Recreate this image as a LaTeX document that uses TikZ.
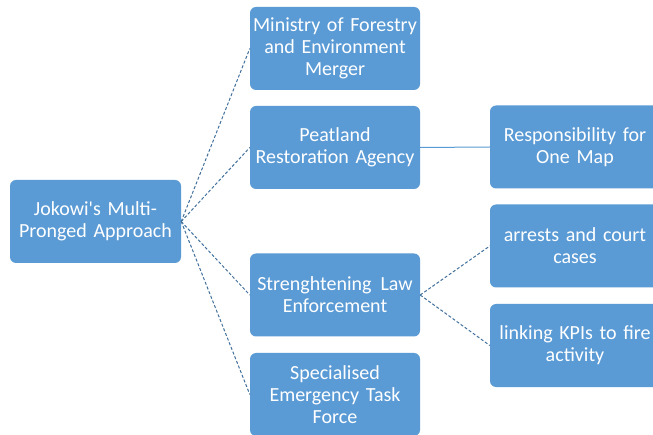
\documentclass[tikz,border=0pt]{standalone}
\usepackage{fontspec}
\setmainfont{Carlito}
\tikzset{
  box/.style={fill=boxblue, rounded corners=6pt, text=white, align=center,
    minimum width=170pt, minimum height=83pt, text width=168pt,
    font=\fontsize{20}{22}\selectfont, inner sep=0pt},
  link/.style={draw=lineblue, line width=1pt, densely dashed},
}
\definecolor{boxblue}{HTML}{5B9BD5}
\definecolor{lineblue}{HTML}{41719C}
\begin{document}
\begin{tikzpicture}[x=1pt,y=-1pt]
\clip (0,0) rectangle (653,435);
\fill[white] (0,0) rectangle (653,435);
% root
\node[box, minimum width=171pt] (root) at (95.5,221.5) {Jokowi\textquotesingle s Multi-\\Pronged Approach};
% first level
\node[box] (ministry) at (335,48.5) {Ministry of Forestry\\and Environment\\Merger};
\node[box] (peat) at (335,147.5) {Peatland\\Restoration Agency};
\node[box] (law) at (335,295) {Strenghtening\hspace{0.45em}Law\\Enforcement};
\node[box] (task) at (335,394.5) {Specialised\\Emergency Task\\Force};
% second level
\node[box] (map) at (575,147) {Responsibility for\\One Map};
\node[box] (arrests) at (575,246) {arrests and court\\cases};
\node[box] (kpi) at (575,345.5) {linking KPIs to fire\\activity};
% connectors
\foreach \n in {ministry,peat,law,task}
  \draw[link] (root.east) -- (\n.west);
\draw[draw=boxblue, line width=1pt] (peat.east) -- (map.west);
\draw[link] (law.east) -- (arrests.west);
\draw[link] (law.east) -- (kpi.west);
\end{tikzpicture}
\end{document}
